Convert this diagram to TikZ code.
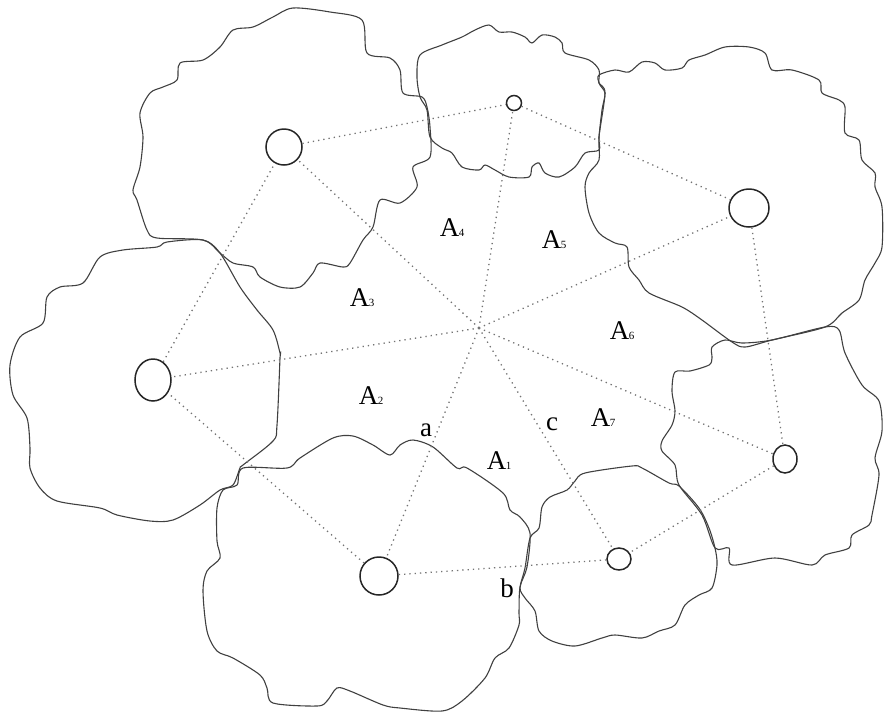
\documentclass[tikz,border=0pt]{standalone}
\usepackage{fontspec}
\setmainfont{Liberation Serif}
\usetikzlibrary{shapes.geometric}
\newcommand{\subs}[1]{\kern-0.5pt{\fontsize{11}{11}\selectfont #1}}
\tikzset{
  blob/.style={draw=black!75, line width=1.1pt},
  site/.style={ellipse, draw=black!85, line width=1.5pt, inner sep=0pt},
  dotl/.style={draw=black!55, line width=1.3pt, dash pattern=on 1.3pt off 4pt},
  lab/.style={font=\fontsize{27}{27}\selectfont, inner sep=0pt}
}
\begin{document}
\begin{tikzpicture}[x=1pt,y=-1pt]
\useasboundingbox (0,0) rectangle (884,716);
% blob 3
\draw[blob] plot[smooth cycle, tension=0.5] coordinates {(293,8) (330,12) (362,20) (367,53) (390,58) (400,70) (403,93) (422,97) (427,107) (430,127) (430,157) (413,167) (417,187) (400,203) (380,200) (373,227) (363,240) (350,263) (343,267) (320,263) (313,273) (300,287) (280,287) (260,277) (253,267) (233,263) (220,253) (203,240) (157,238) (147,230) (137,200) (133,190) (140,167) (143,137) (140,113) (150,93) (163,87) (177,80) (180,63) (203,60) (220,47) (233,30) (253,27) (273,17)};
% blob 2
\draw[blob] plot[smooth cycle, tension=0.5] coordinates {(203,240) (167,242) (157,247) (123,250) (100,257) (83,283) (60,287) (47,297) (43,323) (20,337) (10,365) (13,395) (27,418) (30,448) (30,468) (40,488) (57,501) (100,508) (117,515) (150,521) (173,520) (200,505) (220,490) (233,485) (240,468) (243,465) (273,441) (277,425) (280,358) (280,353) (273,330) (257,310) (240,287) (220,253)};
% blob 1
\draw[blob] plot[smooth cycle, tension=0.5] coordinates {(243,468) (287,468) (300,458) (333,438) (353,436) (373,445) (390,455) (400,445) (413,440) (433,447) (457,468) (467,468) (503,493) (510,510) (520,517) (530,533) (527,567) (520,587) (519,613) (519,625) (509,648) (495,658) (485,678) (462,701) (442,711) (400,708) (383,705) (350,691) (337,688) (327,701) (317,706) (273,703) (267,688) (260,675) (233,658) (217,651) (207,631) (203,591) (207,571) (220,558) (217,541) (217,508) (223,490) (237,485)};
% blob 7
\draw[blob] plot[smooth cycle, tension=0.5] coordinates {(575,481) (585,473) (632,466) (642,468) (669,483) (679,486) (699,508) (709,528) (715,548) (717,565) (712,588) (699,595) (685,605) (675,625) (659,631) (642,638) (615,635) (602,638) (575,646) (552,641) (539,631) (535,611) (525,598) (520,588) (525,568) (530,538) (539,528) (542,507) (550,497) (567,490)};
% blob 6
\draw[blob] plot[smooth cycle, tension=0.5] coordinates {(712,347) (725,340) (742,343) (772,340) (825,327) (839,330) (845,353) (862,385) (879,401) (882,431) (875,458) (879,475) (872,515) (869,525) (852,535) (849,548) (825,555) (812,565) (775,558) (732,565) (729,548) (715,548) (702,515) (679,485) (675,465) (662,451) (662,441) (672,425) (675,411) (672,391) (675,372) (690,371) (709,365) (712,358)};
% blob 5
\draw[blob] plot[smooth cycle, tension=0.5] coordinates {(599,75) (615,70) (629,72) (642,62) (655,63) (665,70) (682,68) (689,60) (705,55) (725,47) (749,47) (765,53) (772,70) (792,70) (819,80) (822,93) (839,100) (845,107) (845,133) (859,140) (862,160) (875,173) (875,187) (882,207) (882,247) (875,263) (865,280) (859,300) (842,313) (825,327) (772,340) (745,347) (732,342) (702,320) (682,307) (649,293) (639,280) (629,267) (627,247) (615,243) (599,233) (589,213) (585,187) (589,173) (599,160) (599,137) (605,93) (599,83)};
% blob 4
\draw[blob] plot[smooth cycle, tension=0.5] coordinates {(442,45) (462,37) (475,30) (489,25) (499,32) (512,32) (525,37) (532,43) (542,35) (555,37) (562,43) (565,53) (589,60) (599,70) (599,83) (605,93) (602,110) (599,137) (599,150) (585,153) (575,167) (559,177) (545,173) (539,163) (532,167) (529,177) (509,177) (495,170) (485,165) (479,170) (462,167) (452,153) (442,148) (430,137) (427,110) (420,97) (417,77) (420,55)};
% sites
\node[site, minimum width=38pt, minimum height=38pt] (c1) at (379,576) {};
\node[site, minimum width=36pt, minimum height=42pt] (c2) at (153,380) {};
\node[site, minimum width=36pt, minimum height=36pt] (c3) at (284,147) {};
\node[site, minimum width=15pt, minimum height=15pt] (c4) at (514,103) {};
\node[site, minimum width=40pt, minimum height=38pt] (c5) at (749,208) {};
\node[site, minimum width=24pt, minimum height=28pt] (c6) at (785,459) {};
\node[site, minimum width=24pt, minimum height=22pt] (c7) at (619,559) {};
\coordinate (o) at (479,328);
% radial dotted lines
\foreach \c in {c1,c2,c3,c4,c5,c6,c7} \draw[dotl] (o) -- (\c);
% polygon dotted lines
\draw[dotl] (c1) -- (c2);
\draw[dotl] (c2) -- (c3);
\draw[dotl] (c3) -- (c4);
\draw[dotl] (c4) -- (c5);
\draw[dotl] (c5) -- (c6);
\draw[dotl] (c6) -- (c7);
\draw[dotl] (c7) -- (c1);
% labels
\node[lab] (l1) at (499,461) {A\subs{1}};
\node[lab] (l2) at (371,396) {A\subs{2}};
\node[lab] (l3) at (362,298) {A\subs{3}};
\node[lab] (l4) at (452,228) {A\subs{4}};
\node[lab] (l5) at (554,240) {A\subs{5}};
\node[lab] (l6) at (622,331) {A\subs{6}};
\node[lab] (l7) at (603,418) {A\subs{7}};
\node[lab] (la) at (426,430) {a};
\node[lab] (lb) at (507,588) {b};
\node[lab] (lc) at (552,424) {c};
\end{tikzpicture}
\end{document}
